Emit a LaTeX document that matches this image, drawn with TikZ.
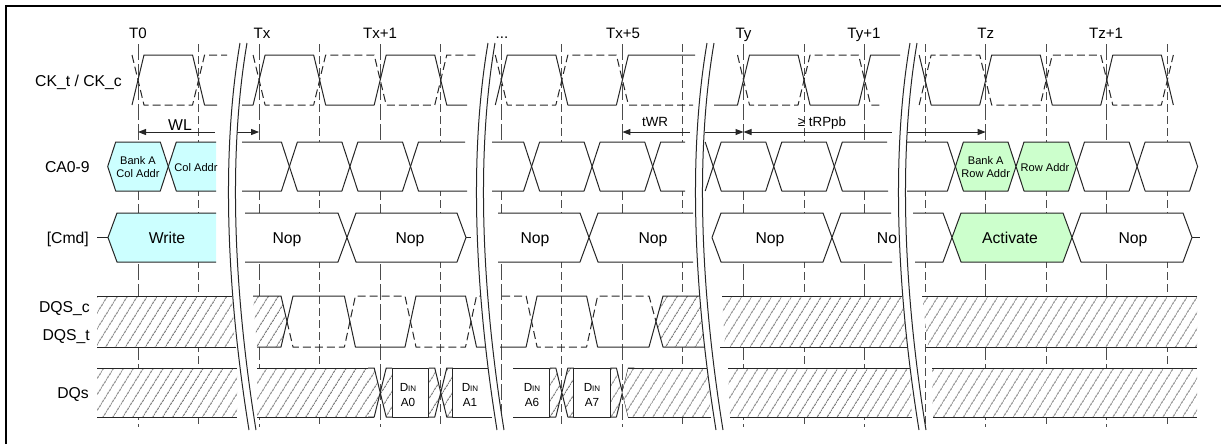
\documentclass[tikz,border=0pt]{standalone}
\usepackage{fontspec}
\setmainfont{Liberation Sans}
\usetikzlibrary{arrows.meta,patterns.meta}
\definecolor{cafill}{RGB}{204,255,255}
\definecolor{actfill}{RGB}{204,255,204}
% bus cells (CA and command rows)
\newcommand{\cacell}[3]{\filldraw[wave,#1] (#2,166.5) -- ({#2+8},142) -- ({#3-8},142) -- (#3,166.5) -- ({#3-8},191) -- ({#2+8},191) -- cycle;}
\newcommand{\cmdcell}[3]{\filldraw[wave,#1] (#2,237.5) -- ({#2+9},213) -- ({#3-9},213) -- (#3,237.5) -- ({#3-9},262) -- ({#2+9},262) -- cycle;}
% data transition on DQs
\newcommand{\dqx}[1]{%
  \path[hatch] ({#1-12},368) -- ({#1-6},368) -- (#1,392.5) -- ({#1-6},417) -- ({#1-12},417) -- cycle
    (#1,392.5) -- ({#1+6},368) -- ({#1+12},368) -- ({#1+12},417) -- ({#1+6},417) -- cycle;
  \draw[wave] ({#1-12},368) -- ({#1-6},368) -- ({#1+6},417) -- ({#1+12},417)
    ({#1-12},417) -- ({#1-6},417) -- ({#1+6},368) -- ({#1+12},368);}
% time break
\newcommand{\brk}[1]{%
  \fill[white] (#1,43) .. controls ({#1-20},160) and ({#1-12},300) .. ({#1+9},430)
    -- ({#1+16},430) .. controls ({#1-5},300) and ({#1-13},160) .. ({#1+7},43) -- cycle;
  \draw[wave] (#1,43) .. controls ({#1-20},160) and ({#1-12},300) .. ({#1+9},430)
    ({#1+7},43) .. controls ({#1-13},160) and ({#1-5},300) .. ({#1+16},430);}
\newcommand{\din}{D{\fontsize{6}{6}\selectfont IN}}

\begin{document}
\begin{tikzpicture}[x=0.75pt,y=-0.75pt,
  wave/.style={line width=0.75pt,draw=black!85,line join=round},
  cmpl/.style={wave,dash pattern=on 6pt off 3pt},
  tline/.style={line width=0.75pt,draw=black!70,dash pattern=on 12pt off 3pt},
  hline/.style={line width=0.75pt,draw=black!70,dash pattern=on 6pt off 3pt},
  hatch/.style={preaction={fill=white},pattern={Lines[angle=58,distance=6.5pt,line width=0.55pt]},pattern color=black!80},
  lbl/.style={inner sep=0pt,font=\fontsize{11.8}{14}\selectfont},
  clk/.style={inner sep=0pt,font=\fontsize{11.3}{13}\selectfont},
  tim/.style={inner sep=0pt,font=\fontsize{10}{12}\selectfont},
  cellt/.style={inner sep=0pt,align=center,font=\fontsize{8.3}{9.75}\selectfont},
  dtext/.style={inner sep=0pt,align=center,font=\fontsize{8.8}{11.25}\selectfont},
  dimarr/.style={wave,-{Stealth[length=6pt,width=4.5pt,inset=0pt]}},
  dimarl/.style={wave,{Stealth[length=6pt,width=4.5pt,inset=0pt]}-}]
\useasboundingbox (0,0) rectangle (1221,444);
\draw[line width=1.7pt] (6,444) -- (6,6) -- (1221,6);

% clock edge lines
\foreach \k in {0,2,...,16} \draw[tline] ({138+\k*60.55},44) -- ({138+\k*60.55},427);
\foreach \k in {1,3,...,17} \draw[hline] ({138+\k*60.55},44) -- ({138+\k*60.55},427);

% CK_t (solid) / CK_c (dashed)
\draw[wave] (132,105) -- (144,55) -- (192.55,55) -- (204.55,105) -- (217,105);
\draw[cmpl] (132,55) -- (144,105) -- (192.55,105) -- (204.55,55) -- (227,55);
\draw[wave] (242,105) -- (253.1,105) -- (265.1,55) -- (313.65,55) -- (325.65,105) -- (374.2,105) -- (386.2,55) -- (434.75,55) -- (446.75,105) -- (467,105);
\draw[cmpl] (253.1,55) -- (265.1,105) -- (313.65,105) -- (325.65,55) -- (374.2,55) -- (386.2,105) -- (434.75,105) -- (446.75,55) -- (477,55);
\draw[wave] (495.3,105) -- (507.3,55) -- (555.85,55) -- (567.85,105) -- (616.4,105) -- (628.4,55) -- (695,55);
\draw[cmpl] (495.3,55) -- (507.3,105) -- (555.85,105) -- (567.85,55) -- (616.4,55) -- (628.4,105) -- (693,105);
\draw[wave] (714,105) -- (737.5,105) -- (749.5,55) -- (798.05,55) -- (810.05,105) -- (858.6,105) -- (870.6,55) -- (900,55);
\draw[cmpl] (737.5,55) -- (749.5,105) -- (798.05,105) -- (810.05,55) -- (858.6,55) -- (870.6,105) -- (880,105);
\draw[wave] (919.15,55) -- (931.15,105) -- (979.7,105) -- (991.7,55) -- (1040.25,55) -- (1052.25,105) -- (1100.8,105) -- (1112.8,55) -- (1161.35,55) -- (1173.35,105);
\draw[cmpl] (919.15,105) -- (931.15,55) -- (979.7,55) -- (991.7,105) -- (1040.25,105) -- (1052.25,55) -- (1100.8,55) -- (1112.8,105) -- (1161.35,105) -- (1173.35,55);

% timing arrows
\coordinate (wl0) at (138,132);   \coordinate (wl1) at (215,132);
\coordinate (wl2) at (235,132);   \coordinate (wl3) at (259.1,132);
\coordinate (wr0) at (622.4,132); \coordinate (wr1) at (690,132);
\coordinate (wr2) at (705,132);   \coordinate (wr3) at (743.5,132);
\coordinate (rp0) at (743.5,132); \coordinate (rp1) at (892,132);
\coordinate (rp2) at (907,132);   \coordinate (rp3) at (985.7,132);
\draw[dimarl] (wl0) -- (wl1);
\draw[dimarr] (wl2) -- (wl3);
\draw[dimarl] (wr0) -- (wr1);
\draw[dimarr] (wr2) -- (wr3);
\draw[dimarl] (rp0) -- (rp1);
\draw[dimarr] (rp2) -- (rp3);
\node[lbl,anchor=base] (nWL) at (180,130) {WL};
\node[tim,anchor=base] (ntWR) at (655,126) {tWR};
\node[tim,anchor=base] (ntRP) at (822,126.5) {≥ tRPpb};

% CA0-9
\cacell{fill=cafill}{107.7}{168.3}
\fill[cafill] (168.3,166.5) -- (176.3,142) -- (216,142) -- (216,191) -- (176.3,191) -- cycle;
\draw[wave] (216,142) -- (176.3,142) -- (168.3,166.5) -- (176.3,191) -- (216,191);
\filldraw[wave,fill=white] (242,142) -- (281.4,142) -- (289.4,166.5) -- (281.4,191) -- (242,191);
\cacell{fill=white}{289.4}{349.9}
\cacell{fill=white}{349.9}{410.5}
\filldraw[wave,fill=white] (465,142) -- (418.5,142) -- (410.5,166.5) -- (418.5,191) -- (467,191);
\filldraw[wave,fill=white] (492,142) -- (523.6,142) -- (531.6,166.5) -- (523.6,191) -- (492,191);
\cacell{fill=white}{531.6}{592.1}
\cacell{fill=white}{592.1}{652.7}
\filldraw[wave,fill=white] (685,142) -- (660.7,142) -- (652.7,166.5) -- (660.7,191) -- (685,191);
\draw[wave] (705.2,142) -- (713.2,166.5) -- (705.2,191);
\cacell{fill=white}{713.2}{773.8}
\cacell{fill=white}{773.8}{834.3}
\filldraw[wave,fill=white] (887,142) -- (842.3,142) -- (834.3,166.5) -- (842.3,191) -- (888,191);
\filldraw[wave,fill=white] (907,142) -- (947.4,142) -- (955.4,166.5) -- (947.4,191) -- (907,191);
\cacell{fill=actfill}{955.4}{1016}
\cacell{fill=actfill}{1016}{1076.5}
\cacell{fill=white}{1076.5}{1137.1}
\cacell{fill=white}{1137.1}{1197.6}
\node[cellt] (cBankC) at (138,167.5) {Bank A\\Col Addr};
\node[cellt,anchor=base] (cCol) at (196,171.7) {Col Addr};
\node[cellt] (cBankR) at (985.7,167.5) {Bank A\\Row Addr};
\node[cellt,anchor=base] (cRow) at (1045,171.7) {Row Addr};

% [Cmd]
\coordinate (cmdin) at (97,237.5);
\coordinate (wrin) at (108,237.5);
\draw[wave] (cmdin) -- (wrin);
\fill[cafill] (108,237.5) -- (117,213) -- (216,213) -- (216,262) -- (117,262) -- cycle;
\draw[wave] (216,213) -- (117,213) -- (108,237.5) -- (117,262) -- (216,262);
\filldraw[wave,fill=white] (245,213) -- (338,213) -- (347,237.5) -- (338,262) -- (245,262);
\cmdcell{fill=white}{347}{466}
\draw[wave] (466,237.5) -- (471,237.5);
\filldraw[wave,fill=white] (498,213) -- (580,213) -- (589,237.5) -- (580,262) -- (498,262);
\filldraw[wave,fill=white] (693,213) -- (598,213) -- (589,237.5) -- (598,262) -- (693,262);
\cmdcell{fill=white}{712}{832}
\filldraw[wave,fill=white] (891,213) -- (841,213) -- (832,237.5) -- (841,262) -- (892,262);
\filldraw[wave,fill=white] (913,213) -- (943,213) -- (952,237.5) -- (943,262) -- (915,262);
\cmdcell{fill=actfill}{952}{1072}
\cmdcell{fill=white}{1072}{1192}
\draw[wave] (1192,237.5) -- (1200,237.5);
\node[lbl,anchor=base] (cWrite) at (167,243) {Write};
\node[lbl,anchor=base] (cNop1) at (287,243) {Nop};
\node[lbl,anchor=base] (cNop2) at (410,243) {Nop};
\node[lbl,anchor=base] (cNop3) at (535,243) {Nop};
\node[lbl,anchor=base] (cNop4) at (653,243) {Nop};
\node[lbl,anchor=base] (cNop5) at (770,243) {Nop};
\node[lbl,anchor=base] (cNop6) at (887,243) {No};
\node[lbl,anchor=base] (cAct) at (1010,243) {Activate};
\node[lbl,anchor=base] (cNop7) at (1133,243) {Nop};

% DQS_t / DQS_c
\path[hatch] (97,296) -- (232,296) -- (235,347) -- (97,347) -- cycle;
\draw[wave] (97,296) -- (232,296) (97,347) -- (236,347);
\path[hatch] (253,296) -- (281,296) -- (287,321.5) -- (281,347) -- (257,347) -- cycle;
\draw[wave] (253,296) -- (281,296) -- (287,321.5) -- (281,347) -- (257,347);
\draw[wave] (287,321.5) -- (293,296) -- (344.4,296) -- (355.4,347) -- (405,347) -- (416,296) -- (465.5,296) -- (476.5,347) -- (486,347);
\draw[cmpl] (287,321.5) -- (293,347) -- (344.4,347) -- (355.4,296) -- (405,296) -- (416,347) -- (465.5,347) -- (476.5,296) -- (484,296);
\draw[wave] (500,347) -- (526.1,347) -- (537.1,296) -- (586.6,296) -- (597.6,347) -- (649,347) -- (656,321.5);
\draw[cmpl] (502,296) -- (526.1,296) -- (537.1,347) -- (586.6,347) -- (597.6,296) -- (649,296) -- (656,321.5);
\path[hatch] (656,321.5) -- (663,296) -- (701,296) -- (706,347) -- (663,347) -- cycle;
\draw[wave] (701,296) -- (663,296) -- (656,321.5) -- (663,347) -- (706,347);
\path[hatch] (722,296) -- (902,296) -- (908,347) -- (725,347) -- cycle;
\draw[wave] (722,296) -- (902,296) (720,347) -- (908,347);
\path[hatch] (922,296) -- (1197,296) -- (1197,347) -- (928,347) -- cycle;
\draw[wave] (922,296) -- (1197,296) (926,347) -- (1197,347);

% DQs
\path[hatch] (97,368) -- (237,368) -- (237,417) -- (97,417) -- cycle;
\draw[wave] (97,368) -- (237,368) (97,417) -- (237,417);
\path[hatch] (257,368) -- (374.2,368) -- (380.2,392.5) -- (374.2,417) -- (257,417) -- cycle;
\draw[wave] (257,368) -- (374.2,368) (257,417) -- (374.2,417);
\dqx{380.2}
\dqx{440.75}
\filldraw[wave,fill=white] (392.2,368) rectangle (428.75,417);
\filldraw[wave,fill=white] (492,368) -- (452.75,368) -- (452.75,417) -- (492,417);
\dqx{561.85}
\dqx{622.4}
\filldraw[wave,fill=white] (513,368) -- (549.85,368) -- (549.85,417) -- (513,417);
\filldraw[wave,fill=white] (573.85,368) rectangle (610.4,417);
\path[hatch] (622.4,392.5) -- (628.4,368) -- (708,368) -- (711,417) -- (628.4,417) -- cycle;
\draw[wave] (628.4,368) -- (708,368) (628.4,417) -- (711,417);
\path[hatch] (728,368) -- (910,368) -- (912,417) -- (730,417) -- cycle;
\draw[wave] (728,368) -- (910,368) (730,417) -- (912,417);
\path[hatch] (932,368) -- (1197,368) -- (1197,417) -- (933,417) -- cycle;
\draw[wave] (932,368) -- (1197,368) (933,417) -- (1197,417);
\node[dtext] (dA0) at (408,395) {\din\\A0};
\node[dtext] (dA1) at (470,395) {\din\\A1};
\node[dtext] (dA6) at (532,395) {\din\\A6};
\node[dtext] (dA7) at (592,395) {\din\\A7};

% breaks
\brk{240}
\brk{488}
\brk{707}
\brk{910}

% labels
\node[clk,anchor=base] (lT0) at (138,38.4) {T0};
\node[clk,anchor=base] (lTx) at (262,38.4) {Tx};
\node[clk,anchor=base] (lTx1) at (380,38.4) {Tx+1};
\node[clk,anchor=base] (ldots) at (502,38.4) {...};
\node[clk,anchor=base] (lTx5) at (623,38.4) {Tx+5};
\node[clk,anchor=base] (lTy) at (743.5,38.4) {Ty};
\node[clk,anchor=base] (lTy1) at (864,38.4) {Ty+1};
\node[clk,anchor=base] (lTz) at (985.7,38.4) {Tz};
\node[clk,anchor=base] (lTz1) at (1106,38.4) {Tz+1};
\node[lbl,anchor=base east] (rck) at (122,86) {CK\_t / CK\_c};
\node[lbl,anchor=base east] (rca) at (90,172.6) {CA0-9};
\node[lbl,anchor=base east] (rcmd) at (89,243.5) {[Cmd]};
\node[lbl,anchor=base east] (rqsc) at (90,312.5) {DQS\_c};
\node[lbl,anchor=base east] (rqst) at (90,340.5) {DQS\_t};
\node[lbl,anchor=base east] (rdq) at (89,398.5) {DQs};
\end{tikzpicture}
\end{document}
